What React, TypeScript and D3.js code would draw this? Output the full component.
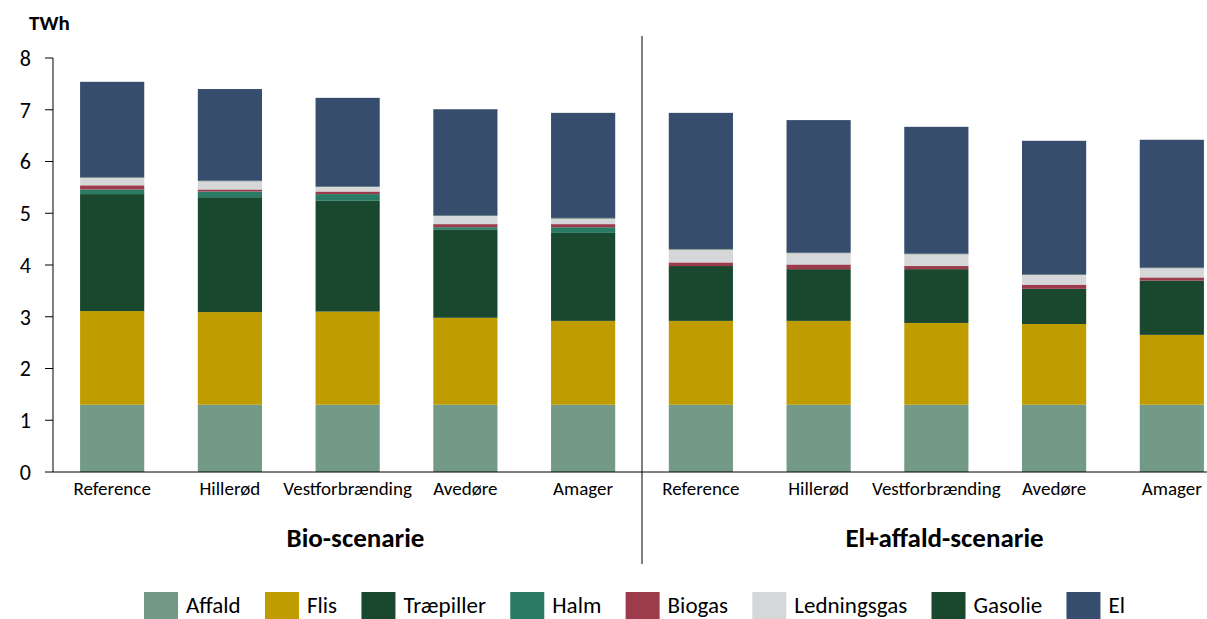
import React, { useEffect, useRef } from "react";
import * as d3 from "d3";

const categories = ["Reference", "Hillerød", "Vestforbrænding", "Avedøre", "Amager", "Reference", "Hillerød", "Vestforbrænding", "Avedøre", "Amager"];
const groups = ["Bio-scenarie", "El+affald-scenarie"];
const seriesNames = ["Affald", "Flis", "Træpiller", "Halm", "Biogas", "Ledningsgas", "Gasolie", "El"];
const seriesColors = ["#739a86", "#bf9c00", "#19482f", "#297b63", "#9b3b4c", "#d6d7d9", "#19482f", "#374d6d"];

const affald = [1.30, 1.30, 1.30, 1.30, 1.30, 1.30, 1.30, 1.30, 1.30, 1.30];
const flis = [1.81, 1.79, 1.80, 1.68, 1.62, 1.62, 1.62, 1.58, 1.56, 1.35];
const traepiller = [2.26, 2.22, 2.14, 1.70, 1.70, 1.06, 1.00, 1.04, 0.68, 1.05];
const halm = [0.09, 0.11, 0.13, 0.05, 0.11, 0, 0, 0, 0, 0];
const biogas = [0.08, 0.04, 0.05, 0.06, 0.06, 0.07, 0.09, 0.06, 0.08, 0.06];
const ledningsgas = [0.15, 0.16, 0.09, 0.16, 0.11, 0.25, 0.22, 0.23, 0.19, 0.18];
const gasolie = [0.01, 0.01, 0.01, 0.01, 0.01, 0.01, 0.01, 0.01, 0.01, 0.01];
const el = [1.84, 1.77, 1.71, 2.05, 2.03, 2.63, 2.56, 2.45, 2.58, 2.47];

const seriesValues = [affald, flis, traepiller, halm, biogas, ledningsgas, gasolie, el];
const yTicks = [0, 1, 2, 3, 4, 5, 6, 7, 8];

const FONT = "Carlito, Calibri, Lato, 'Liberation Sans', sans-serif";

export default function App() {
  const ref = useRef<SVGSVGElement | null>(null);

  useEffect(() => {
    const svg = d3.select(ref.current);
    svg.selectAll("*").remove();
    const W = 1207;
    const left = 53, top = 58, bottom = 472;
    const x = d3.scaleBand<number>().domain(d3.range(categories.length)).range([left, 1231]).paddingInner(0.455).paddingOuter(0.23);
    const y = d3.scaleLinear().domain([0, 8]).range([bottom, top]);

    const rows = categories.map((c, i) => {
      const o: any = { idx: i };
      seriesNames.forEach((s, k) => (o[s] = seriesValues[k][i]));
      return o;
    });
    const stack = d3.stack<any>().keys(seriesNames)(rows);

    const g = svg.append("g");
    stack.forEach((layer, k) => {
      g.append("g")
        .attr("fill", seriesColors[k])
        .selectAll("rect")
        .data(layer)
        .join("rect")
        .attr("x", (d: any) => x(d.data.idx)!)
        .attr("width", x.bandwidth())
        .attr("y", (d: any) => y(d[1]))
        .attr("height", (d: any) => Math.max(0, y(d[0]) - y(d[1])));
    });

    // y axis
    const ya = svg.append("g").attr("font-family", FONT);
    ya.append("line").attr("x1", left).attr("x2", left).attr("y1", y(8)).attr("y2", y(0)).attr("stroke", "#000").attr("stroke-width", 1);
    yTicks.forEach((t) => {
      ya.append("line").attr("x1", left - 8).attr("x2", left).attr("y1", y(t)).attr("y2", y(t)).attr("stroke", "#000");
      ya.append("text").attr("x", 31).attr("y", y(t)).attr("dy", "0.36em").attr("text-anchor", "end")
        .attr("font-size", 22).attr("fill", "#000").text(String(t));
    });
    svg.append("text").attr("x", 29).attr("y", 30).attr("font-family", FONT).attr("font-weight", "bold")
      .attr("font-size", 21).text("TWh");

    // x axis
    svg.append("line").attr("x1", left).attr("x2", W).attr("y1", y(0)).attr("y2", y(0)).attr("stroke", "#000");
    svg.append("g").selectAll("text").data(categories).join("text")
      .attr("x", (d, i) => x(i)! + x.bandwidth() / 2)
      .attr("y", 495)
      .attr("text-anchor", "middle")
      .attr("font-family", FONT)
      .attr("font-size", 19)
      .text((d) => d);

    // divider
    const step = x.step();
    const divX = x(5)! - step * x.paddingInner() / 2;
    svg.append("line").attr("x1", divX).attr("x2", divX).attr("y1", 36).attr("y2", 564).attr("stroke", "#000").attr("stroke-width", 1);

    // group labels
    groups.forEach((gName, gi) => {
      const a = gi === 0 ? left : divX;
      const b = gi === 0 ? divX : divX + (divX - left);
      svg.append("text").attr("x", (a + b) / 2 + 8).attr("y", 547).attr("text-anchor", "middle")
        .attr("font-family", FONT).attr("font-weight", "bold").attr("font-size", 27).text(gName);
    });

    // legend
    const leg = svg.append("g").attr("font-family", FONT).attr("font-size", 23);
    const texts: any[] = [];
    const widths: number[] = [];
    seriesNames.forEach((s) => {
      const t = leg.append("text").attr("y", 613).text(s);
      texts.push(t);
      widths.push((t.node() as SVGTextElement).getComputedTextLength());
    });
    const sw = 34, textOff = 42;
    const startX = 144, endX = 1125;
    const used = d3.sum(widths) + seriesNames.length * textOff;
    const gap = (endX - startX - used) / (seriesNames.length - 1);
    let lx = startX;
    seriesNames.forEach((s, k) => {
      leg.insert("rect", "text").attr("x", lx).attr("y", 592).attr("width", sw).attr("height", 30).attr("fill", seriesColors[k]);
      texts[k].attr("x", lx + textOff);
      lx += textOff + widths[k] + gap;
    });
  }, []);

  return <svg ref={ref} width={1207} height={619} style={{ display: "block", position: "absolute", left: 0, top: 0 }} />;
}
